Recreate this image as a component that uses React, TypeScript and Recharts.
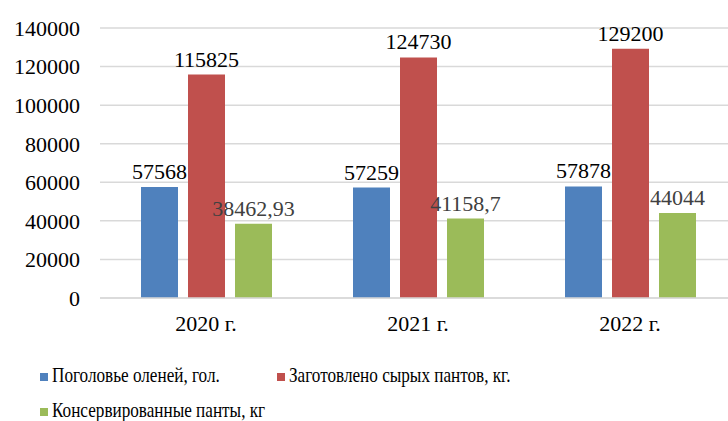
import { Bar, BarChart, CartesianGrid, LabelList, XAxis, YAxis } from "recharts";

// Reindeer herd, raw and preserved antlers by year
const YEARS = ["2020 г.", "2021 г.", "2022 г."];
const HERD = [57568, 57259, 57878];
const RAW_ANTLERS = [115825, 124730, 129200];
const PRESERVED = [38462.93, 41158.7, 44044];
const Y_TICKS = [0, 20000, 40000, 60000, 80000, 100000, 120000, 140000];

const SERIES = [
  { key: "herd", name: "Поголовье оленей, гол.", color: "#4F81BD", label: "#000000" },
  { key: "raw", name: "Заготовлено сырых пантов, кг.", color: "#C0504D", label: "#000000" },
  { key: "preserved", name: "Консервированные панты, кг", color: "#9BBB59", label: "#404040" },
];

const DATA = YEARS.map((year, i) => ({
  year,
  herd: HERD[i],
  raw: RAW_ANTLERS[i],
  preserved: PRESERVED[i],
}));

const FONT = '"Liberation Serif", "Times New Roman", serif';
const GRID = "#D9D9D9";

const fmt = (v: unknown) => String(v ?? "").replace(".", ",");

// legend item spots (two rows, like the original)
const LEGEND_POS = [
  { left: 40, top: 364 },
  { left: 277, top: 364 },
  { left: 40, top: 399 },
];

export default function App() {
  return (
    <div style={{ position: "absolute", left: 0, top: 0, width: 728, height: 421, fontFamily: FONT }}>
      <style>{`#root, #root * { font-family: "Liberation Serif", "Times New Roman", serif !important; }`}</style>
      <BarChart
        width={728}
        height={421}
        data={DATA}
        margin={{ top: 28, right: 0, bottom: 93, left: 0 }}
        barCategoryGap="19%"
        barGap={10}
        barSize={37}
      >
        <CartesianGrid vertical={false} stroke={GRID} strokeWidth={1.5} />
        <XAxis
          dataKey="year"
          tickLine={false}
          axisLine={{ stroke: GRID, strokeWidth: 1.5 }}
          tick={{ fill: "#000", fontSize: 22, fontFamily: FONT }}
          tickMargin={11}
          height={30}
          padding={{ left: 0, right: -8 }}
        />
        <YAxis
          domain={[0, 140000]}
          ticks={Y_TICKS}
          interval={0}
          tickLine={false}
          axisLine={false}
          width={100}
          tickMargin={14}
          tick={{ fill: "#000", fontSize: 22, fontFamily: FONT }}
        />
        {SERIES.map((s) => (
          <Bar key={s.key} dataKey={s.key} name={s.name} fill={s.color} isAnimationActive={false}>
            <LabelList
              dataKey={s.key}
              position="top"
              offset={8}
              formatter={fmt}
              fontFamily={FONT}
              fontSize={22}
              fill={s.label}
            />
          </Bar>
        ))}
      </BarChart>

      {SERIES.map((s, i) => (
        <div
          key={s.key}
          style={{
            position: "absolute",
            left: LEGEND_POS[i].left,
            top: LEGEND_POS[i].top,
            fontSize: 22,
            lineHeight: "22px",
            whiteSpace: "nowrap",
          }}
        >
          <span
            style={{
              display: "inline-block",
              width: 8,
              height: 8,
              background: s.color,
              marginRight: 4,
              verticalAlign: "middle",
            }}
          />
          <span
            style={{
              display: "inline-block",
              transform: "scaleX(0.78)",
              transformOrigin: "left center",
            }}
          >
            {s.name}
          </span>
        </div>
      ))}
    </div>
  );
}
